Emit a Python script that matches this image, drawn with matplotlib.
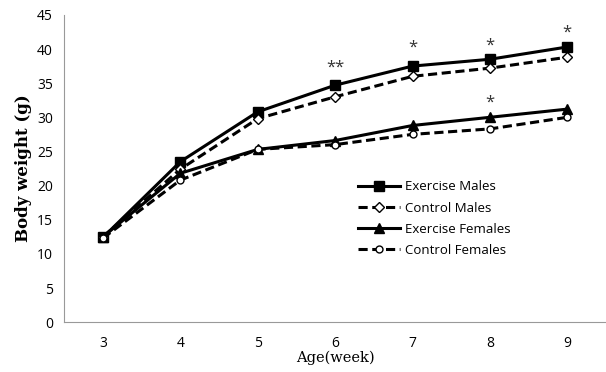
import matplotlib.pyplot as plt
import numpy as np

plt.rcParams['font.family'] = 'sans-serif'
plt.rcParams['font.sans-serif'] = ['Open Sans', 'DejaVu Sans']

# Data
weeks = [3, 4, 5, 6, 7, 8, 9]
ex_males = [12.4, 23.5, 30.8, 34.7, 37.5, 38.5, 40.3]
ctrl_males = [12.5, 22.4, 29.8, 33.0, 36.0, 37.2, 38.8]
ex_females = [12.5, 21.8, 25.3, 26.6, 28.8, 30.0, 31.2]
ctrl_females = [12.3, 20.8, 25.3, 26.0, 27.5, 28.3, 30.0]

# significance marks
sig_weeks = [6, 7, 8, 9, 8]
sig_y = [37.2, 40.2, 40.5, 42.4, 32.1]
sig_text = ['**', '*', '*', '*', '*']

fig = plt.figure(figsize=(6.06, 3.72), dpi=100)
ax = fig.add_axes([0.106, 0.134, 0.894, 0.826])

ax.plot(weeks, ex_males, '-', color='black', lw=2.2, marker='s', ms=7,
        label='Exercise Males')
ax.plot(weeks, ctrl_males, '--', color='black', lw=2.2, marker='D', ms=5,
        mfc='white', mec='black', mew=1, dashes=(3, 1.5), label='Control Males')
ax.plot(weeks, ex_females, '-', color='black', lw=2.2, marker='^', ms=7,
        label='Exercise Females')
ax.plot(weeks, ctrl_females, '--', color='black', lw=2.2, marker='o', ms=5,
        mfc='white', mec='black', mew=1, dashes=(3, 1.5), label='Control Females')

for x, y, t in zip(sig_weeks, sig_y, sig_text):
    ax.text(x, y, t, ha='center', va='center', fontsize=12, color='#333333')

ax.set_xlim(2.5, 9.5)
ax.set_ylim(0, 45)
ax.set_yticks(np.arange(0, 46, 5))
ax.set_xticks(weeks)
ax.tick_params(length=0, labelsize=10, pad=8)
ax.tick_params(axis='x', pad=10)

for s in ['top', 'right']:
    ax.spines[s].set_visible(False)
ax.spines['left'].set_color('#999999')
ax.spines['bottom'].set_color('#999999')

ax.set_xlabel('Age(week)', family='DejaVu Serif', fontsize=10.5, labelpad=0)
ax.set_ylabel('Body weight (g)', family='DejaVu Serif', fontsize=12,
              fontweight='bold', labelpad=4)

ax.legend(loc='upper left', bbox_to_anchor=(0.52, 0.50), frameon=False,
          fontsize=9.5, handlelength=3.2, labelspacing=0.62, handletextpad=0.4)

plt.savefig('out.png', dpi=100)
